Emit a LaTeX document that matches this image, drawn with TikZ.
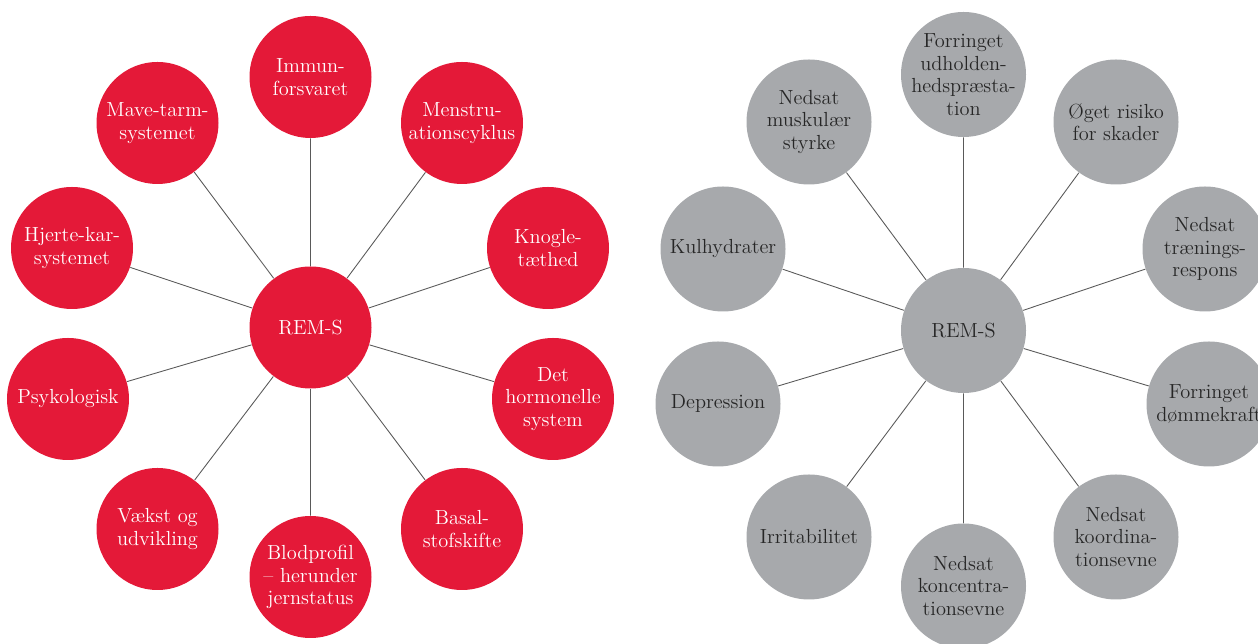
\documentclass[tikz,border=0pt]{standalone}
\definecolor{remred}{RGB}{228,25,56}
\definecolor{remgrey}{RGB}{167,169,172}
\begin{document}
\begin{tikzpicture}[draw=black!65,line width=0.5pt,
	redball/.style={circle, fill = remred, text = white, minimum size = 2.44cm, inner sep = -6pt, align = center, font = \fontsize{11.6}{12.8}\selectfont},
	greyball/.style={circle, fill = remgrey, text = black!85, minimum size = 2.5cm, inner sep = -6pt, align = center, font = \fontsize{11.6}{12.8}\selectfont}]
	\clip (0, 0) rectangle (25.16, 12.88);
	% left: red
	\node (L0) at ( 6.21,  6.33)	[redball]	{REM-S};
	\node (L1) at ( 6.21, 11.34)	[redball]	{Immun-\\forsvaret};
	\node (L2) at ( 9.24, 10.42)	[redball]	{Menstru-\\ationscyklus};
	\node (L3) at (10.96,  7.92)	[redball]	{Knogle-\\tæthed};
	\node (L4) at (11.06,  4.90)	[redball]	{Det\\hormonelle\\system};
	\node (L5) at ( 9.24,  2.30)	[redball]	{Basal-\\stofskifte};
	\node (L6) at ( 6.21,  1.34)	[redball]	{Blodprofil\\– herunder\\jernstatus};
	\node (L7) at ( 3.15,  2.30)	[redball]	{Vækst og\\udvikling};
	\node (L8) at ( 1.36,  4.90)	[redball]	{Psykologisk};
	\node (L9) at ( 1.44,  7.92)	[redball]	{Hjerte-kar-\\systemet};
	\node (L10) at ( 3.15, 10.42)	[redball]	{Mave-tarm-\\systemet};
	\draw (L0) -- (L1) (L0) -- (L2) (L0) -- (L3) (L0) -- (L4) (L0) -- (L5);
	\draw (L0) -- (L6) (L0) -- (L7) (L0) -- (L8) (L0) -- (L9) (L0) -- (L10);
	% right: grey
	\node (R0) at (19.27,  6.27)	[greyball]	{REM-S};
	\node (R1) at (19.27, 11.39)	[greyball]	{Forringet\\udholden-\\hedspræsta-\\tion};
	\node (R2) at (22.32, 10.44)	[greyball]	{Øget risiko\\for skader};
	\node (R3) at (24.10,  7.90)	[greyball]	{Nedsat\\trænings-\\respons};
	\node (R4) at (24.18,  4.80)	[greyball]	{Forringet\\dømmekraft};
	\node (R5) at (22.32,  2.14)	[greyball]	{Nedsat\\koordina-\\tionsevne};
	\node (R6) at (19.27,  1.16)	[greyball]	{Nedsat\\koncentra-\\tionsevne};
	\node (R7) at (16.18,  2.14)	[greyball]	{Irritabilitet};
	\node (R8) at (14.36,  4.80)	[greyball]	{Depression};
	\node (R9) at (14.46,  7.90)	[greyball]	{Kulhydrater};
	\node (R10) at (16.18, 10.44)	[greyball]	{Nedsat\\muskulær\\styrke};
	\draw (R0) -- (R1) (R0) -- (R2) (R0) -- (R3) (R0) -- (R4) (R0) -- (R5);
	\draw (R0) -- (R6) (R0) -- (R7) (R0) -- (R8) (R0) -- (R9) (R0) -- (R10);
\end{tikzpicture}
\end{document}
